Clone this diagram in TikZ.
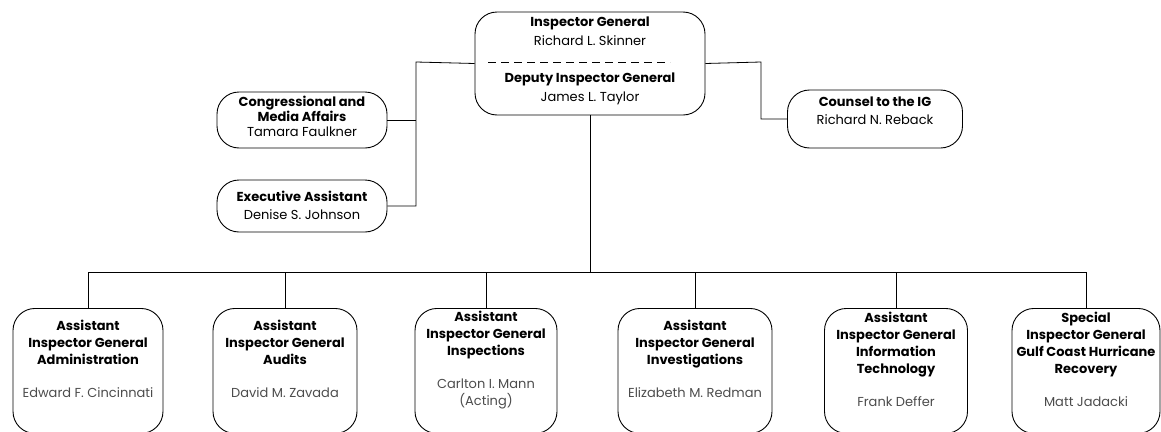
\documentclass[tikz,border=0pt]{standalone}
\usepackage{fontspec}
\setmainfont{Poppins}
\tikzset{
  box/.style={draw, rounded corners=22pt, line width=0.9pt},
  lowbox/.style={box, minimum width=148pt, minimum height=125pt, anchor=north},
  txt/.style={align=center, inner sep=0pt, font=\fontsize{13}{17}\selectfont},
}
\begin{document}
\begin{tikzpicture}[x=1pt, y=-1pt, line width=0.8pt]
  \clip (0,0) rectangle (1161,431);
  % top
  \node[box, minimum width=230pt, minimum height=103pt] (ig) at (590,63.5) {};
  \node[txt, font=\fontsize{13}{19}\selectfont] (igt) at (590,31) {\textbf{Inspector General}\\Richard L. Skinner};
  \node[txt, font=\fontsize{13}{19}\selectfont] (digt) at (590,89) {\textbf{Deputy Inspector General}\\James L. Taylor};
  \coordinate (dl) at (488,62);
  \coordinate (dr) at (670,62);
  \draw[dash pattern=on 8pt off 5pt] (dl) -- (dr);
  % staff
  \node[box, minimum width=170pt, minimum height=56pt] (cma) at (302,120) {};
  \node[txt, font=\fontsize{13}{15}\selectfont] (cmat) at (302,116) {\textbf{Congressional and}\\\textbf{Media Affairs}\\Tamara Faulkner};
  \node[box, minimum width=170pt, minimum height=52pt] (ea) at (302,206) {};
  \node[txt, font=\fontsize{13}{18}\selectfont] (eat) at (302,205) {\textbf{Executive Assistant}\\Denise S. Johnson};
  \node[box, minimum width=175pt, minimum height=58pt] (cig) at (875,119) {};
  \node[txt, font=\fontsize{13}{18}\selectfont] (cigt) at (875,111) {\textbf{Counsel to the IG}\\Richard N. Reback};
  \coordinate (lbus) at (416,62);
  \coordinate (rbus) at (761,62);
  \draw (ig.west) -- (lbus) |- (ea.east);
  \draw (cma.east) -- (cma.east -| lbus);
  \draw (ig.east) -- (rbus) |- (cig.west);
  % assistants
  \node[lowbox, minimum width=150pt] (adm) at (88,308) {};
  \node[lowbox, minimum width=144pt] (aud) at (285,308) {};
  \node[lowbox, minimum width=142pt] (insp) at (486,308) {};
  \node[lowbox, minimum width=154pt] (inv) at (695,308) {};
  \node[lowbox, minimum width=143pt] (it) at (896,308) {};
  \node[lowbox, minimum width=148pt] (sig) at (1086,308) {};
  \node[txt] (admt) at (88,359) {\textbf{Assistant}\\\textbf{Inspector General}\\\textbf{Administration}\\[16pt]{\color{black!70}Edward F. Cincinnati}};
  \node[txt] (audt) at (285,359) {\textbf{Assistant}\\\textbf{Inspector General}\\\textbf{Audits}\\[16pt]{\color{black!70}David M. Zavada}};
  \node[txt] (inspt) at (486,360) {\textbf{Assistant}\\\textbf{Inspector General}\\\textbf{Inspections}\\[16pt]{\color{black!70}Carlton I. Mann}\\{\color{black!70}(Acting)}};
  \node[txt] (invt) at (695,359) {\textbf{Assistant}\\\textbf{Inspector General}\\\textbf{Investigations}\\[16pt]{\color{black!70}Elizabeth M. Redman}};
  \node[txt] (itt) at (896,359) {\textbf{Assistant}\\\textbf{Inspector General}\\\textbf{Information}\\\textbf{Technology}\\[16pt]{\color{black!70}Frank Deffer}};
  \node[txt] (sigt) at (1086,359) {\textbf{Special}\\\textbf{Inspector General}\\\textbf{Gulf Coast Hurricane}\\\textbf{Recovery}\\[16pt]{\color{black!70}Matt Jadacki}};
  \coordinate (bus) at (590,272);
  \draw (ig.south) -- (bus);
  \draw (adm.north |- bus) -- (sig.north |- bus);
  \foreach \n in {adm,aud,insp,inv,it,sig}
    \draw (\n.north) -- (\n.north |- bus);
\end{tikzpicture}
\end{document}
